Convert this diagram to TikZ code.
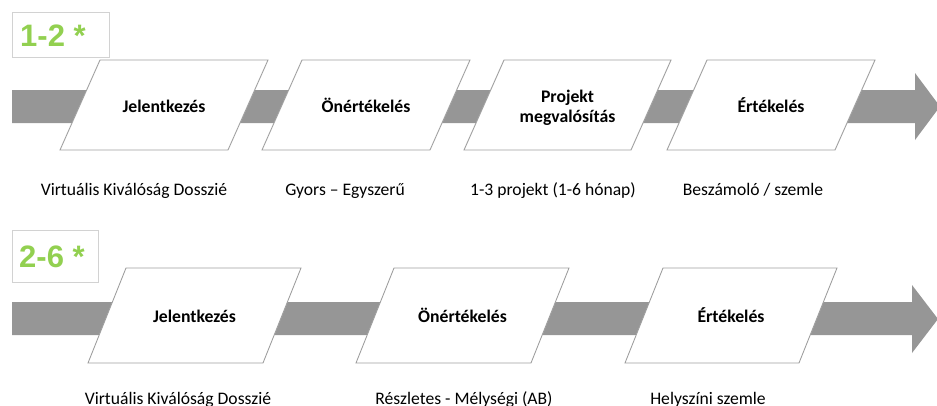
\documentclass[tikz,border=0pt]{standalone}
\usepackage{fontspec}
\setmainfont{Carlito}
\newfontfamily\headfont{Liberation Sans}
\definecolor{flowgray}{RGB}{150,150,150}
\definecolor{edgegray}{RGB}{160,160,160}
\definecolor{framegray}{RGB}{210,210,210}
\definecolor{leafgreen}{RGB}{146,208,80}

% #1 name, #2 bottom-left x, #3 top y, #4 bottom y, #5 width, #6 slant, #7 text baseline, #8 text
\newcommand\stagebox[8]{%
  \draw[stageshape] (#2,#4) -- ({#2+#6},#3) -- ({#2+#6+#5},#3) -- ({#2+#5},#4) -- cycle;
  \node[stagelabel] (#1) at ({#2+#5/2+#6/2},#7) {#8};
}

\begin{document}
\begin{tikzpicture}[x=1pt,y=-1pt,
  flowbar/.style={fill=flowgray},
  stageshape/.style={draw=edgegray,line width=0.9pt,fill=white,line join=miter},
  stagelabel/.style={font=\fontsize{17.7}{20}\selectfont\bfseries,align=center,inner sep=0pt,anchor=base},
  notelabel/.style={font=\fontsize{17.6}{21}\selectfont,inner sep=0pt,anchor=base},
  countbox/.style={draw=framegray,line width=1pt,fill=white},
  counttext/.style={font=\headfont\fontsize{31}{34}\selectfont\bfseries,text=leafgreen,anchor=base west,inner sep=0pt}]
\useasboundingbox (0,0) rectangle (937,405);

% ---- first track ----
\fill[flowbar] (12,90) -- (915,90) -- (915,73) -- (940,106.5) -- (915,140) -- (915,123) -- (12,123) -- cycle;
\draw[countbox] (12,12) rectangle (109,57);
\node[counttext] (c1) at (20,46) {1-2 *};

\stagebox{a1}{60}{60}{150}{168}{40}{112}{Jelentkezés}
\stagebox{a2}{262}{60}{150}{168}{40}{112}{Önértékelés}
\stagebox{a3}{464}{60}{150}{167}{40}{122}{Projekt\\megvalósítás}
\stagebox{a4}{667}{60}{150}{168}{40}{112}{Értékelés}

\node[notelabel] (n1) at (134,195) {Virtuális Kiválóság Dosszié};
\node[notelabel] (n2) at (345,195) {Gyors – Egyszerű};
\node[notelabel] (n3) at (553,195) {1-3 projekt (1-6 hónap)};
\node[notelabel] (n4) at (753,195) {Beszámoló / szemle};

% ---- second track ----
\fill[flowbar] (12,302) -- (912,302) -- (912,285) -- (938,319) -- (912,353) -- (912,335) -- (12,335) -- cycle;
\draw[countbox] (12,230) rectangle (98,282);
\node[counttext] (c2) at (19,267) {2-6 *};

\stagebox{b1}{88}{268}{363}{175}{38}{322}{Jelentkezés}
\stagebox{b2}{356}{268}{363}{175}{38}{322}{Önértékelés}
\stagebox{b3}{625}{268}{363}{174}{38}{322}{Értékelés}

\node[notelabel] (m1) at (178,404) {Virtuális Kiválóság Dosszié};
\node[notelabel] (m2) at (464,404) {Részletes - Mélységi (AB)};
\node[notelabel] (m3) at (708,404) {Helyszíni szemle};
\end{tikzpicture}
\end{document}
